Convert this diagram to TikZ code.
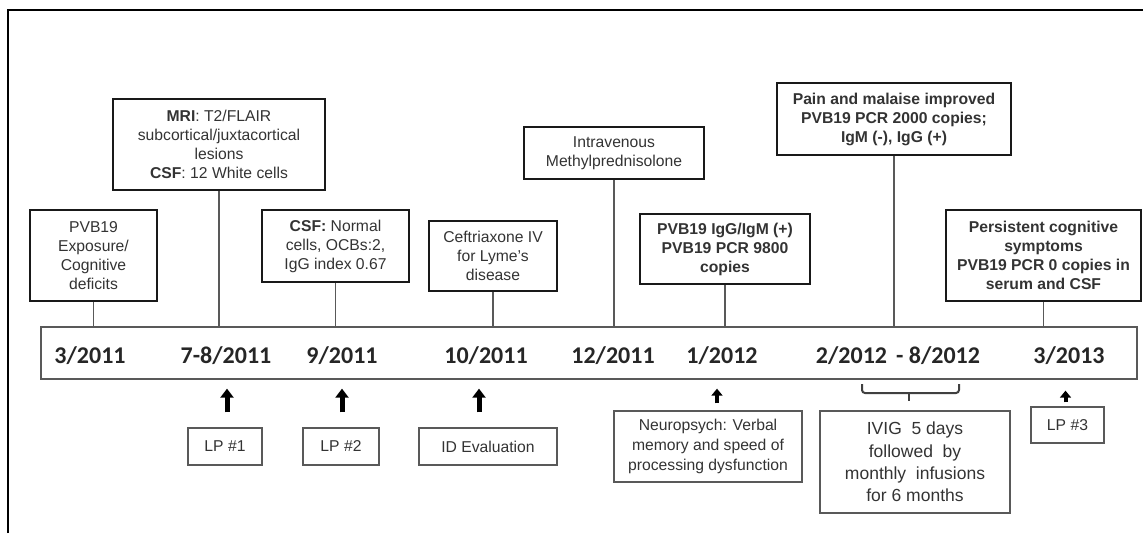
\documentclass[tikz,border=0pt]{standalone}
\usepackage{fontspec}
\setmainfont{Liberation Sans}
\newfontfamily\datefont{Carlito}
\usetikzlibrary{arrows.meta, positioning}

\tikzset{
  event/.style={draw=black!90, line width=2.2pt, align=center, inner sep=0pt,
    text=black!80, font=\fontsize{15.7}{19}\selectfont},
  note/.style={draw=black!65, line width=1.1pt, align=center, inner sep=0pt,
    text=black!80, font=\fontsize{15.7}{20}\selectfont},
  date/.style={anchor=base, text=black!85,
    font=\datefont\bfseries\fontsize{24}{28}\selectfont},
  stem/.style={draw=black!65, line width=1.3pt},
  uparrow/.style={line width=5pt, -{Triangle[width=13pt,length=9pt]}},
  smallarrow/.style={line width=4pt, -{Triangle[width=11pt,length=7pt]}},
}

\begin{document}
\begin{tikzpicture}[x=1pt, y=-1pt]
\useasboundingbox (0,0) rectangle (1143,533);

% Frame
\draw[line width=2.6pt] (8,533) -- (8,10) -- (1143,10);

% --- Timeline bar and dates ---
\node[draw=black!65, line width=1.3pt, minimum width=1096, minimum height=52,
  inner sep=0pt] (bar) at (589,353) {};

\node[date] (dmar11) at (90,363)  {3/2011};
\node[date] (djul11) at (226,363) {7-8/2011};
\node[date] (dsep11) at (342,363) {9/2011};
\node[date] (doct11) at (486,363) {10/2011};
\node[date] (ddec11) at (613,363) {12/2011};
\node[date] (djan12) at (722,363) {1/2012};
\node[date] (dfeb12) at (898,363) {2/2012\hspace{9pt}- 8/2012};
\node[date] (dmar13) at (1069,363) {3/2013};

% --- Events above the timeline ---
\node[event, minimum width=127, minimum height=91] (expo) at (93.5,255.5)
  {PVB19\\Exposure/\\Cognitive\\deficits};
\node[event, minimum width=212, minimum height=91] (mri) at (219,144.5)
  {\textbf{MRI}: T2/FLAIR\\subcortical/juxtacortical\\lesions\\\textbf{CSF}: 12 White cells};
\node[event, minimum width=147, minimum height=72] (csf) at (335.5,246)
  {\textbf{CSF:} Normal\\cells, OCBs:2,\\IgG index 0.67};
\node[event, minimum width=128, minimum height=70] (ceft) at (493,256)
  {Ceftriaxone IV\\for Lyme's\\disease};
\node[event, minimum width=180, minimum height=52] (ivmp) at (614,153)
  {Intravenous\\Methylprednisolone};
\node[event, minimum width=170, minimum height=70, font=\bfseries\fontsize{15.7}{19}\selectfont]
  (igg) at (725,249) {PVB19 IgG/IgM (+)\\PVB19 PCR 9800\\copies};
\node[event, minimum width=234, minimum height=72, font=\bfseries\fontsize{15.7}{19}\selectfont]
  (pain) at (894,119) {Pain and malaise improved\\PVB19 PCR 2000 copies;\\IgM (-), IgG (+)};
\node[event, minimum width=195, minimum height=91, font=\bfseries\fontsize{15.7}{19}\selectfont]
  (persist) at (1043.5,255.5)
  {Persistent cognitive\\symptoms\\PVB19 PCR 0 copies in\\serum and CSF};

% Stems down to the bar
\foreach \ev in {expo, mri, csf, ceft, ivmp, igg, pain, persist}
  \draw[stem] (\ev.south) -- (\ev.south |- bar.north);

% --- Notes below the timeline ---
\node[note, minimum width=74, minimum height=37] (lp1) at (225,446.5) {LP \#1};
\node[note, minimum width=76, minimum height=37] (lp2) at (341,446.5) {LP \#2};
\node[note, minimum width=138, minimum height=37] (idev) at (488,446.5) {ID Evaluation};
\node[note, minimum width=188, minimum height=71] (neuro) at (708,446.5)
  {Neuropsych: Verbal\\memory and speed of\\processing dysfunction};
\node[note, minimum width=190, minimum height=102, font=\fontsize{17.5}{22.3}\selectfont]
  (ivig) at (915,462)
  {IVIG\ \ 5 days\\followed\ \ by\\monthly\ \ infusions\\for 6 months};
\node[note, minimum width=73, minimum height=36] (lp3) at (1067.5,425) {LP \#3};

% Arrows up to the bar
\draw[uparrow, shorten <=15pt, shorten >=9pt]
  ([xshift=2pt]lp1.north) -- ([xshift=2pt]lp1.north |- bar.south);
\draw[uparrow, shorten <=15pt, shorten >=9pt]
  ([xshift=1pt]lp2.north) -- ([xshift=1pt]lp2.north |- bar.south);
\draw[uparrow, shorten <=15pt, shorten >=9pt]
  ([xshift=-9pt]idev.north) -- ([xshift=-9pt]idev.north |- bar.south);
\draw[smallarrow, shorten <=7pt, shorten >=9pt]
  ([xshift=9pt]neuro.north) -- ([xshift=9pt]neuro.north |- bar.south);
\draw[smallarrow, shorten <=4pt, shorten >=11pt]
  ([xshift=-2pt]lp3.north) -- ([xshift=-2pt]lp3.north |- bar.south);

% Bracket over the IVIG period
\draw[black!75, line width=2pt, rounded corners=3pt]
  (862,384) -- (862,393) -- (959,393) -- (959,384);
\draw[black!75, line width=2pt] (909,393) -- (909,401);

\end{tikzpicture}
\end{document}
